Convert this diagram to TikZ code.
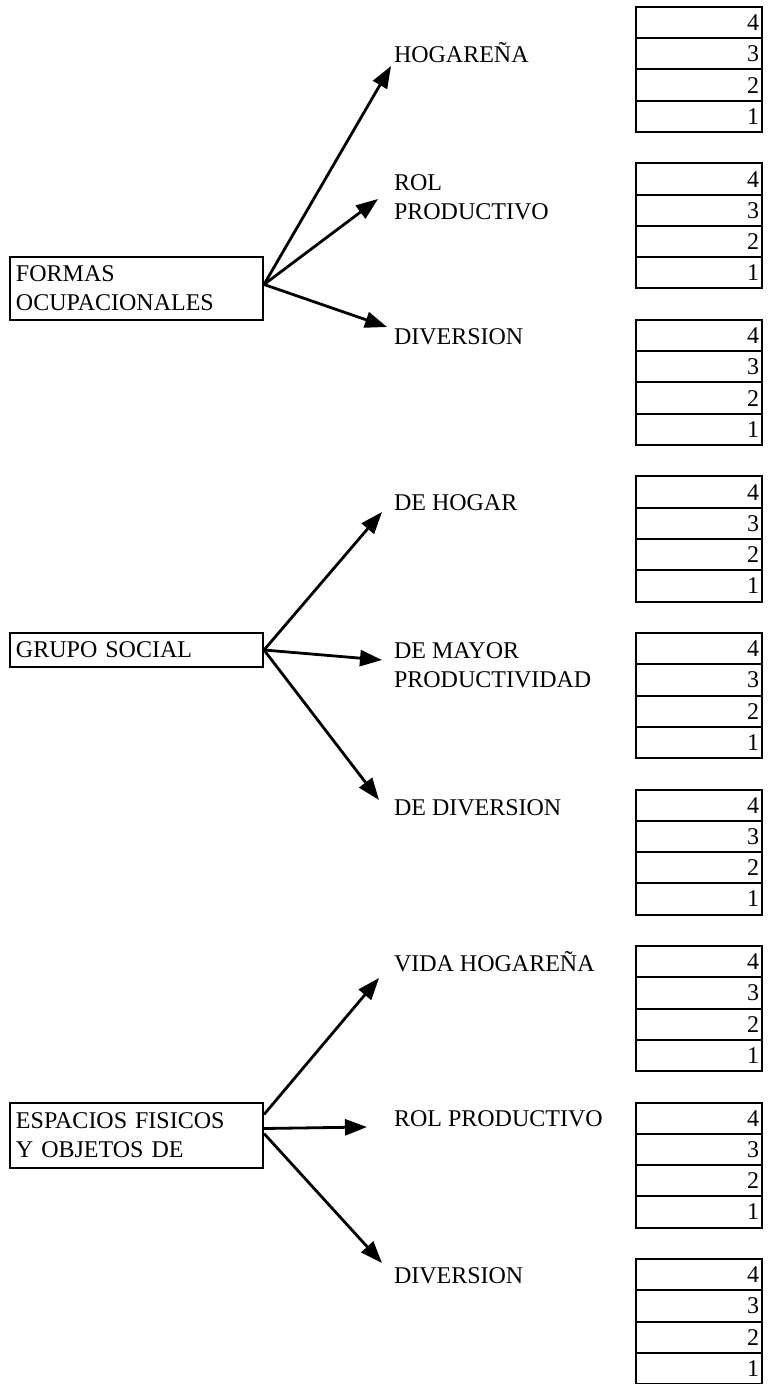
\documentclass[tikz,border=0pt]{standalone}
\usepackage{fontspec}
\setmainfont{Liberation Serif}
\usetikzlibrary{arrows.meta}

\tikzset{
  grp/.style={draw, anchor=north west, align=left, text width=120.5pt, inner xsep=3pt, inner ysep=0pt},
  lbl/.style={inner sep=0pt, anchor=base west},
  lbltwo/.style={inner sep=0pt, anchor=north west, align=left},
  cell/.style={draw, anchor=north west, minimum height=15.625pt, text width=60pt, inner xsep=1.5pt, inner ysep=0pt, align=right},
  arr/.style={->, line width=1.4pt},
}

\begin{document}
\begin{tikzpicture}[>={Triangle[length=11pt,width=8pt]},line width=1pt,x=0.5pt,y=-0.5pt,font=\fontsize{12pt}{14.5pt}\selectfont]
\useasboundingbox (0,0) rectangle (769,1384);

% the three groups on the left
\node[grp, minimum height=31.5pt] (fo) at (9,256) {FORMAS\\OCUPACIONALES};
\node[grp, minimum height=17pt] (gs) at (9,632) {GRUPO SOCIAL};
\node[grp, minimum height=32.5pt] (ef) at (9,1102) {ESPACIOS FISICOS\\Y OBJETOS DE};

% labels
\node[lbl] (hog) at (393,63) {HOGAREÑA};
\node[lbltwo] (rol) at (393,174) {ROL\\PRODUCTIVO};
\node[lbl] (div) at (393,345) {DIVERSION};

\node[lbl] (dhog) at (393,510) {DE HOGAR};
\node[lbltwo] (dmay) at (393,642) {DE MAYOR\\PRODUCTIVIDAD};
\node[lbl] (ddiv) at (393,815) {DE DIVERSION};

\node[lbl] (vhog) at (393,971) {VIDA HOGAREÑA};
\node[lbl] (rprod) at (393,1126) {ROL PRODUCTIVO};
\node[lbl] (div3) at (393,1283) {DIVERSION};

% arrow tips
\coordinate (hog-tip) at (391,66);
\coordinate (rol-tip) at (378,199);
\coordinate (div-tip) at (387,327);
\coordinate (dhog-tip) at (382,512);
\coordinate (dmay-tip) at (382,660);
\coordinate (ddiv-tip) at (379,800);
\coordinate (vhog-tip) at (379,978);
\coordinate (rprod-tip) at (367,1127);
\coordinate (div3-tip) at (382,1263);

\draw[arr] ([yshift=2pt]fo.east) -- (hog-tip);
\draw[arr] ([yshift=2pt]fo.east) -- (rol-tip);
\draw[arr] ([yshift=2pt]fo.east) -- (div-tip);

\draw[arr] (gs.east) -- (dhog-tip);
\draw[arr] (gs.east) -- (dmay-tip);
\draw[arr] (gs.east) -- (ddiv-tip);

\draw[arr] ([yshift=10.5pt]ef.east) -- (vhog-tip);
\draw[arr] ([yshift=3.5pt]ef.east) -- (rprod-tip);
\draw[arr] ([yshift=1pt]ef.east) -- (div3-tip);

% scales 4..1
\foreach \b in {0,...,8} {
  \foreach \r in {0,...,3} {
    \pgfmathtruncatemacro\v{4-\r}
    \node[cell] (c\b-\v) at (635,{6+156.5*\b+31.25*\r}) {\v};
  }
}

\end{tikzpicture}
\end{document}
